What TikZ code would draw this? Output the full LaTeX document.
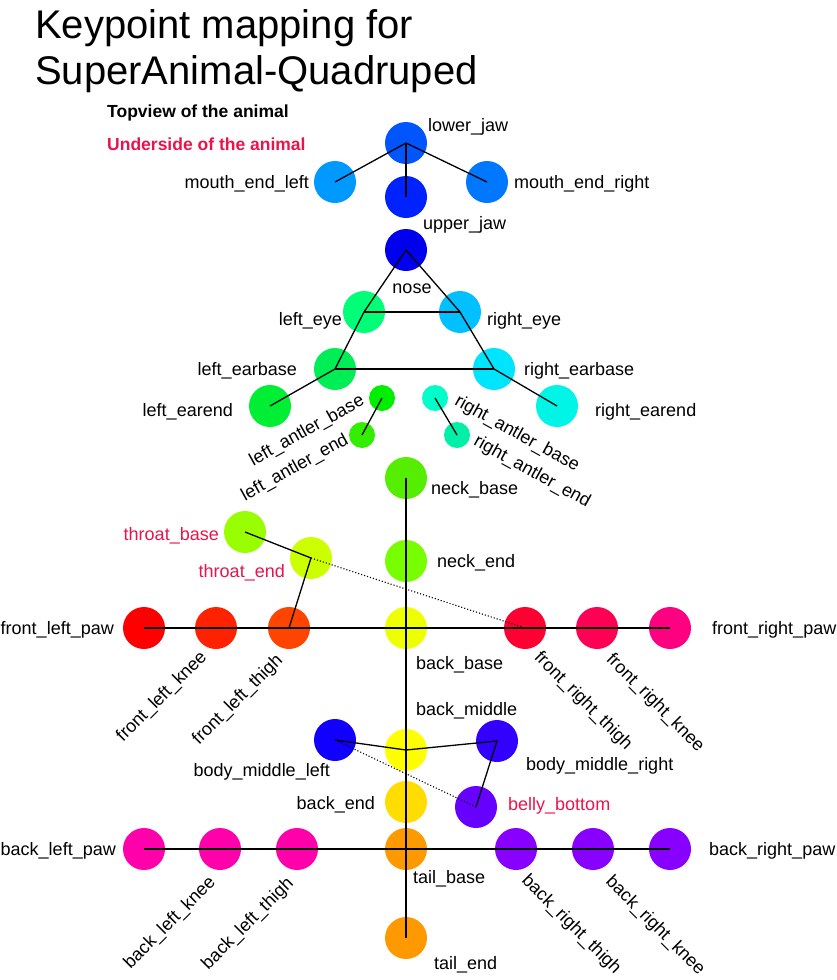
\documentclass[tikz,border=0pt]{standalone}
\usepackage{fontspec}
\setmainfont{Liberation Sans}
\definecolor{undercol}{RGB}{232,20,75}
\definecolor{cLowerJaw}{HTML}{0055FF}
\definecolor{cMEL}{HTML}{0099FF}
\definecolor{cMER}{HTML}{0077FF}
\definecolor{cUpperJaw}{HTML}{0022FF}
\definecolor{cNose}{HTML}{0000EE}
\definecolor{cLEye}{HTML}{00FF77}
\definecolor{cREye}{HTML}{00C0FF}
\definecolor{cLEar}{HTML}{00EE55}
\definecolor{cREar}{HTML}{00E5FF}
\definecolor{cLEarEnd}{HTML}{00EE33}
\definecolor{cREarEnd}{HTML}{00F5E6}
\definecolor{cLAB}{HTML}{00EE00}
\definecolor{cLAE}{HTML}{33EE00}
\definecolor{cRAB}{HTML}{00FFC8}
\definecolor{cRAE}{HTML}{00F0A8}
\definecolor{cNeckBase}{HTML}{55EE00}
\definecolor{cThroatBase}{HTML}{99FF00}
\definecolor{cThroatEnd}{HTML}{CCFF00}
\definecolor{cNeckEnd}{HTML}{77FF00}
\definecolor{cFLPaw}{HTML}{FF0000}
\definecolor{cFLKnee}{HTML}{FF2200}
\definecolor{cFLThigh}{HTML}{FF4400}
\definecolor{cBackBase}{HTML}{EEFF00}
\definecolor{cFRThigh}{HTML}{FF0033}
\definecolor{cFRKnee}{HTML}{FF0055}
\definecolor{cFRPaw}{HTML}{FF0080}
\definecolor{cBML}{HTML}{1100FF}
\definecolor{cBackMiddle}{HTML}{FFFF00}
\definecolor{cBMR}{HTML}{3300FF}
\definecolor{cBackEnd}{HTML}{FFDD00}
\definecolor{cBelly}{HTML}{6600FF}
\definecolor{cBL}{HTML}{FF00AA}
\definecolor{cTail}{HTML}{FF9900}
\definecolor{cBR}{HTML}{8800FF}
\begin{document}
\begin{tikzpicture}[x=1pt,y=-1pt,
  kp/.style={circle,inner sep=0pt,minimum size=42pt,fill=#1,draw=none},
  kps/.style={circle,inner sep=0pt,minimum size=26pt,fill=#1,draw=none},
  lbl/.style={font=\fontsize{18}{20}\selectfont,inner sep=0pt},
  ulbl/.style={lbl,text=undercol},
  link/.style={line width=1.3pt,black},
  dlink/.style={line width=1.1pt,black,dotted}]
\useasboundingbox (0,0) rectangle (836,980);
% title and legend
\node[anchor=base west,inner sep=0pt,font=\fontsize{40}{46}\selectfont] (t1) at (35,38) {Keypoint mapping for};
\node[anchor=base west,inner sep=0pt,font=\fontsize{40}{46}\selectfont] (t2) at (35,84) {SuperAnimal-Quadruped};
\node[anchor=base west,inner sep=0pt,font=\bfseries\fontsize{17.5}{20}\selectfont] (leg1) at (107,117) {Topview of the animal};
\node[anchor=base west,inner sep=0pt,font=\bfseries\fontsize{17.5}{20}\selectfont,text=undercol] (leg2) at (107,150) {Underside of the animal};
% keypoints
\node[kp=cLowerJaw] (lowerjaw) at (406,143) {};
\node[kp=cMEL] (mel) at (335,182) {};
\node[kp=cUpperJaw] (upperjaw) at (406,197) {};
\node[kp=cMER] (mer) at (487,182) {};
\node[kp=cNose] (nose) at (406,250) {};
\node[kp=cLEye] (leye) at (364,312) {};
\node[kp=cREye] (reye) at (460,312) {};
\node[kp=cLEar] (lear) at (335,369) {};
\node[kp=cREar] (rear) at (494,369) {};
\node[kp=cLEarEnd] (learend) at (270,406) {};
\node[kp=cREarEnd] (rearend) at (557,406) {};
\node[kps=cLAB] (lab) at (382,398) {};
\node[kps=cLAE] (lae) at (362,435) {};
\node[kps=cRAB] (rab) at (435,398) {};
\node[kps=cRAE] (rae) at (457,435) {};
\node[kp=cNeckBase] (neckbase) at (406,478) {};
\node[kp=cThroatBase] (throatbase) at (245,532) {};
\node[kp=cThroatEnd] (throatend) at (311,558) {};
\node[kp=cNeckEnd] (neckend) at (406,561) {};
\node[kp=cFLPaw] (flpaw) at (144,628) {};
\node[kp=cFLKnee] (flknee) at (216,628) {};
\node[kp=cFLThigh] (flthigh) at (289,628) {};
\node[kp=cBackBase] (backbase) at (406,628) {};
\node[kp=cFRThigh] (frthigh) at (525,628) {};
\node[kp=cFRKnee] (frknee) at (597,628) {};
\node[kp=cFRPaw] (frpaw) at (670,628) {};
\node[kp=cBML] (bml) at (335,740) {};
\node[kp=cBackMiddle] (backmiddle) at (406,750) {};
\node[kp=cBMR] (bmr) at (497,741) {};
\node[kp=cBackEnd] (backend) at (406,802) {};
\node[kp=cBelly] (belly) at (476,807) {};
\node[kp=cBL] (blpaw) at (144,849) {};
\node[kp=cBL] (blknee) at (220,849) {};
\node[kp=cBL] (blthigh) at (297,849) {};
\node[kp=cTail] (tailbase) at (406,849) {};
\node[kp=cBR] (brthigh) at (516,849) {};
\node[kp=cBR] (brknee) at (593,849) {};
\node[kp=cBR] (brpaw) at (670,849) {};
\node[kp=cTail] (tailend) at (406,938) {};
% connectors
\draw[link] (lowerjaw.center) -- (mel.center);
\draw[link] (lowerjaw.center) -- (mer.center);
\draw[link] (lowerjaw.center) -- (upperjaw.center);
\draw[link] (nose.center) -- (leye.center) -- (lear.center) -- (learend.center);
\draw[link] (nose.center) -- (reye.center) -- (rear.center) -- (rearend.center);
\draw[link] (leye.center) -- (reye.center);
\draw[link] (lear.center) -- (rear.center);
\draw[link] (lab.center) -- (lae.center);
\draw[link] (rab.center) -- (rae.center);
\draw[link] (neckbase.center) -- (neckend.center) -- (backbase.center) -- (backmiddle.center) -- (backend.center) -- (tailbase.center) -- (tailend.center);
\draw[link] (flpaw.center) -- (flknee.center) -- (flthigh.center) -- (backbase.center) -- (frthigh.center) -- (frknee.center) -- (frpaw.center);
\draw[link] (throatbase.center) -- (throatend.center) -- (flthigh.center);
\draw[dlink] (throatend.center) -- (frthigh.center);
\draw[link] (bml.center) -- (backmiddle.center) -- (bmr.center) -- (belly.center);
\draw[dlink] (bml.center) -- (belly.center);
\draw[link] (blpaw.center) -- (blknee.center) -- (blthigh.center) -- (tailbase.center) -- (brthigh.center) -- (brknee.center) -- (brpaw.center);
% labels
\node[lbl,anchor=west] (l-lowerjaw) at (428,127) {lower\_jaw};
\node[lbl,anchor=east] (l-mel) at (309,184) {mouth\_end\_left};
\node[lbl,anchor=west] (l-mer) at (514,184) {mouth\_end\_right};
\node[lbl,anchor=west] (l-upperjaw) at (423,225) {upper\_jaw};
\node[lbl] (l-nose) at (412,289) {nose};
\node[lbl,anchor=east] (l-leye) at (342,321) {left\_eye};
\node[lbl,anchor=west] (l-reye) at (487,321) {right\_eye};
\node[lbl,anchor=east] (l-lear) at (297,371) {left\_earbase};
\node[lbl,anchor=west] (l-rear) at (524,371) {right\_earbase};
\node[lbl,anchor=east] (l-learend) at (233,412) {left\_earend};
\node[lbl,anchor=west] (l-rearend) at (595,412) {right\_earend};
\node[lbl,rotate=29] (l-lab) at (307,431) {left\_antler\_base};
\node[lbl,rotate=29] (l-lae) at (295,468) {left\_antler\_end};
\node[lbl,rotate=-29] (l-rab) at (517,434) {right\_antler\_base};
\node[lbl,rotate=-29] (l-rae) at (532,472) {right\_antler\_end};
\node[lbl,anchor=west] (l-neckbase) at (431,490) {neck\_base};
\node[ulbl,anchor=east] (l-throatbase) at (219,536) {throat\_base};
\node[ulbl,anchor=east] (l-throatend) at (285,573) {throat\_end};
\node[lbl,anchor=west] (l-neckend) at (437,563) {neck\_end};
\node[lbl,anchor=east] (l-flpaw) at (114,630) {front\_left\_paw};
\node[lbl,anchor=west] (l-frpaw) at (712,630) {front\_right\_paw};
\node[lbl,anchor=west] (l-backbase) at (416,665) {back\_base};
\node[lbl,rotate=45] (l-flknee) at (162,697) {front\_left\_knee};
\node[lbl,rotate=45] (l-flthigh) at (238,700) {front\_left\_thigh};
\node[lbl,rotate=-45] (l-frthigh) at (583,701) {front\_right\_thigh};
\node[lbl,rotate=-45] (l-frknee) at (655,703) {front\_right\_knee};
\node[lbl,anchor=west] (l-backmiddle) at (416,711) {back\_middle};
\node[lbl,anchor=east] (l-bml) at (330,772) {body\_middle\_left};
\node[lbl,anchor=west] (l-bmr) at (526,766) {body\_middle\_right};
\node[lbl,anchor=east] (l-backend) at (375,805) {back\_end};
\node[ulbl,anchor=west] (l-belly) at (508,806) {belly\_bottom};
\node[lbl,anchor=east] (l-blpaw) at (116,851) {back\_left\_paw};
\node[lbl,anchor=west] (l-brpaw) at (709,851) {back\_right\_paw};
\node[lbl,anchor=west] (l-tailbase) at (413,879) {tail\_base};
\node[lbl,rotate=45] (l-blknee) at (170,923) {back\_left\_knee};
\node[lbl,rotate=45] (l-blthigh) at (248,924) {back\_left\_thigh};
\node[lbl,rotate=-45] (l-brthigh) at (571,925) {back\_right\_thigh};
\node[lbl,rotate=-45] (l-brknee) at (655,926) {back\_right\_knee};
\node[lbl,anchor=west] (l-tailend) at (434,965) {tail\_end};
\end{tikzpicture}
\end{document}
